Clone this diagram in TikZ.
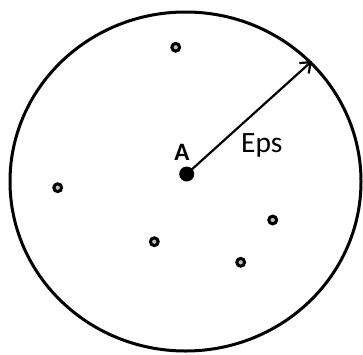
\documentclass[tikz,border=0pt]{standalone}
\usepackage{fontspec}
\setmainfont{Carlito}
\usetikzlibrary{arrows.meta}
\begin{document}
\begin{tikzpicture}[x=1pt,y=-1pt,
  pt/.style={circle,draw=black,fill=black!25,line width=3pt,inner sep=0pt,minimum size=7.8pt},
  center/.style={circle,fill=black,inner sep=0pt,minimum size=15pt},
  lbl/.style={inner sep=0pt,anchor=base west}]
\useasboundingbox (0,0) rectangle (363,354);
\draw[line width=3pt] (185.5,181.5) ellipse [x radius=175.5, y radius=169.5];
\node[center] (A) at (186.7,174) {};
\coordinate (tip) at (312,61);
\draw[line width=2.2pt,-{Straight Barb[length=9pt,width=14pt,line width=2.2pt]}] (A.center) -- (tip);
\node[font=\bfseries\fontsize{25}{25}\selectfont,inner sep=0pt] (Alab) at (182,152) {A};
\node[lbl,font=\fontsize{29.5}{29.5}\selectfont] (eps) at (241,152.3) {Eps};
\node[pt] (p1) at (175.7,47.3) {};
\node[pt] (p2) at (57.7,187.7) {};
\node[pt] (p3) at (154.3,241.7) {};
\node[pt] (p4) at (272.7,220) {};
\node[pt] (p5) at (240.7,262.3) {};
\end{tikzpicture}
\end{document}
